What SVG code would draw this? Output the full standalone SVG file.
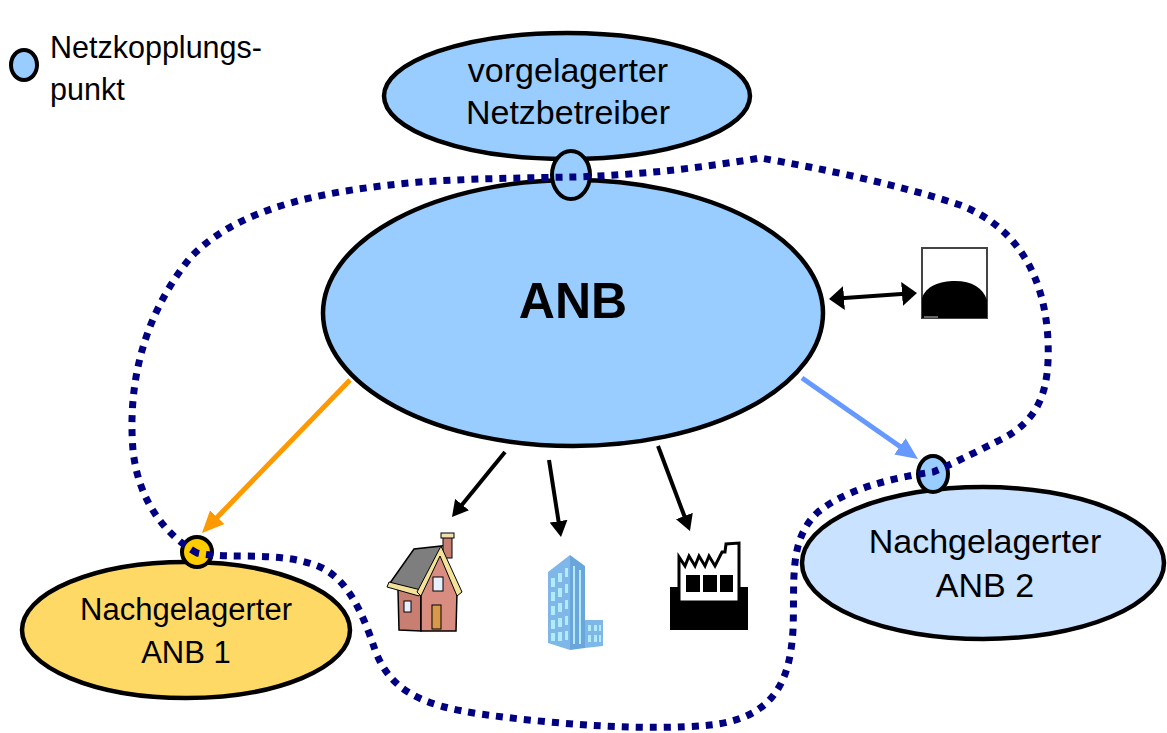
<svg xmlns="http://www.w3.org/2000/svg" width="1167" height="733" viewBox="0 0 1167 733">
  <style>
    .node { stroke: #000; stroke-width: 4.5; }
    .blue { fill: #99CCFF; }
    .lt { font-family: "Liberation Sans", Arial, sans-serif; fill: #000; text-anchor: middle; }
    .ring { fill: none; stroke: #000080; stroke-width: 7; stroke-dasharray: 7 7; }
    .cp { stroke: #000; stroke-width: 4; }
  </style>
  <defs>
    <marker id="headOrange" markerUnits="userSpaceOnUse" viewBox="0 0 22 20" markerWidth="22" markerHeight="20" refX="4" refY="10" orient="auto">
      <path d="M0,0 L22,10 L0,20 Z" fill="#FF9900"/>
    </marker>
    <marker id="headBlue" markerUnits="userSpaceOnUse" viewBox="0 0 22 20" markerWidth="22" markerHeight="20" refX="4" refY="10" orient="auto">
      <path d="M0,0 L22,10 L0,20 Z" fill="#6699FF"/>
    </marker>
    <marker id="headBlackWide" markerUnits="userSpaceOnUse" viewBox="0 0 15 24" markerWidth="15" markerHeight="24" refX="3" refY="12" orient="auto-start-reverse">
      <path d="M0,0 L15,12 L0,24 Z" fill="#000"/>
    </marker>
    <marker id="headBlack" markerUnits="userSpaceOnUse" viewBox="0 0 16 18" markerWidth="16" markerHeight="18" refX="3" refY="9" orient="auto">
      <path d="M0,0 L16,9 L0,18 Z" fill="#000"/>
    </marker>
  </defs>

  <rect width="1167" height="733" fill="#fff"/>

  <!-- legend -->
  <g id="legend">
    <ellipse cx="24" cy="65" rx="13" ry="15" class="cp blue"/>
    <text x="50" y="58" font-family="Liberation Sans, Arial, sans-serif" font-size="30.5">Netzkopplungs-</text>
    <text x="50" y="100" font-family="Liberation Sans, Arial, sans-serif" font-size="30.5">punkt</text>
  </g>

  <!-- upstream operator -->
  <g id="vorgelagerter">
    <ellipse cx="567" cy="96" rx="183" ry="63" class="node blue"/>
    <text x="568" y="82" class="lt" font-size="34">vorgelagerter</text>
    <text x="568" y="124" class="lt" font-size="34">Netzbetreiber</text>
  </g>

  <!-- main grid operator -->
  <g id="anb">
    <ellipse cx="573" cy="313" rx="250" ry="133" class="node blue"/>
    <text x="573" y="318" class="lt" font-size="50" font-weight="bold">ANB</text>
  </g>

  <!-- downstream operator 1 -->
  <g id="anb1">
    <ellipse cx="186" cy="630" rx="164" ry="68" class="node" fill="#FFD966"/>
    <text x="186" y="620" class="lt" font-size="31">Nachgelagerter</text>
    <text x="186" y="663" class="lt" font-size="31">ANB 1</text>
  </g>

  <!-- downstream operator 2 -->
  <g id="anb2">
    <ellipse cx="983" cy="563" rx="181" ry="76" class="node" fill="#C8E2FF"/>
    <text x="985" y="553" class="lt" font-size="34">Nachgelagerter</text>
    <text x="985" y="597" class="lt" font-size="34">ANB 2</text>
  </g>

  <!-- coupling points -->
  <g id="kopplung-oben"><ellipse cx="571" cy="175" rx="19" ry="24" class="cp blue"/></g>
  <g id="kopplung-anb1"><ellipse cx="197" cy="552" rx="15" ry="15" class="cp" fill="#FFCC00"/></g>
  <g id="kopplung-anb2"><ellipse cx="933" cy="474" rx="15" ry="18" class="cp blue"/></g>

  <!-- power plant -->
  <g id="kraftwerk">
    <rect x="922" y="248" width="65" height="70" fill="#fff" stroke="#444" stroke-width="2"/>
    <path d="M922,298 C926,286 940,281 955,281 C972,281 983,288 987,300 L987,318 L922,318 Z" fill="#000"/>
    <line x1="924" y1="317" x2="938" y2="317" stroke="#888" stroke-width="1.5"/>
  </g>

  <!-- house -->
  <g id="haus">
    <path d="M398,590 L421,592 L421,631 L399,630 Z" fill="#C97E72" stroke="#000" stroke-width="1.5"/>
    <path d="M421,592 L442,550 L457,592 L456,631 L421,631 Z" fill="#D98D80" stroke="#000" stroke-width="1.5"/>
    <rect x="443" y="536" width="9" height="22" fill="#C97E72" stroke="#000" stroke-width="1"/>
    <rect x="441" y="533" width="13" height="5" fill="#F0E2B0" stroke="#000" stroke-width="1"/>
    <path d="M390,583 L414,549 L442,546 L421,591 Z" fill="#7E7E7E" stroke="#000" stroke-width="1.5"/>
    <path d="M389,582 L421,590 L419,596 L387,587 Z" fill="#F2E29A" stroke="#000" stroke-width="1"/>
    <path d="M441,546 L462,592 L457,596 L440,556 L421,596 L417,592 Z" fill="#F2E29A" stroke="#000" stroke-width="1"/>
    <rect x="433" y="577" width="10" height="14" fill="#E8F0FF" stroke="#000" stroke-width="1"/>
    <rect x="404" y="601" width="7" height="11" fill="#E8F0FF" stroke="#000" stroke-width="1"/>
    <rect x="432" y="605" width="9" height="24" fill="#D89A4A" stroke="#000" stroke-width="1"/>
  </g>

  <!-- office tower -->
  <g id="hochhaus">
    <path d="M548,572 L570,555 L570,650 L548,643 Z" fill="#7FB8E8"/>
    <path d="M570,555 L585,566 L585,648 L570,650 Z" fill="#6AA6DC"/>
    <path d="M585,620 L603,620 L603,646 L585,648 Z" fill="#7FB8E8"/>
    <g fill="#B2ECFA">
      <rect x="551" y="578" width="4" height="9"/><rect x="558" y="573" width="4" height="9"/><rect x="565" y="568" width="3" height="9"/>
      <rect x="551" y="592" width="4" height="9"/><rect x="558" y="588" width="4" height="9"/><rect x="565" y="584" width="3" height="9"/>
      <rect x="551" y="606" width="4" height="9"/><rect x="558" y="603" width="4" height="9"/><rect x="565" y="600" width="3" height="9"/>
      <rect x="551" y="620" width="4" height="9"/><rect x="558" y="618" width="4" height="9"/><rect x="565" y="616" width="3" height="9"/>
      <rect x="551" y="633" width="4" height="8"/><rect x="558" y="632" width="4" height="9"/><rect x="565" y="631" width="3" height="9"/>
      <rect x="573" y="566" width="2" height="78"/><rect x="579" y="570" width="2" height="74"/>
      <rect x="588" y="625" width="3" height="6"/><rect x="594" y="625" width="3" height="6"/><rect x="599" y="625" width="2" height="6"/>
      <rect x="588" y="635" width="3" height="7"/><rect x="594" y="635" width="3" height="7"/><rect x="599" y="635" width="2" height="7"/>
    </g>
  </g>

  <!-- factory -->
  <g id="fabrik">
    <rect x="670" y="587" width="78" height="43" fill="#000"/>
    <path d="M679,602 L679,557 L685,566 L689,556 L695,566 L699,556 L705,566 L709,556 L715,566 L722,552 L725,552 L726,544 L739,543 L739,602 Z" fill="#fff" stroke="#000" stroke-width="3"/>
    <rect x="686" y="575" width="14" height="17" fill="#000"/>
    <rect x="703" y="575" width="14" height="17" fill="#000"/>
    <rect x="720" y="575" width="13" height="17" fill="#000"/>
  </g>

  <!-- connectors -->
  <g id="connectors">
    <line x1="350" y1="380" x2="214.5" y2="520.1" stroke="#FF9900" stroke-width="5" marker-end="url(#headOrange)"/>
    <line x1="802" y1="378" x2="903.2" y2="448.7" stroke="#6699FF" stroke-width="5" marker-end="url(#headBlue)"/>
    <line x1="841" y1="298.2" x2="905" y2="293.8" stroke="#000" stroke-width="4" marker-start="url(#headBlackWide)" marker-end="url(#headBlackWide)"/>
    <line x1="505" y1="452" x2="460.2" y2="506.9" stroke="#000" stroke-width="4" marker-end="url(#headBlack)"/>
    <line x1="549" y1="460" x2="559" y2="524.2" stroke="#000" stroke-width="4" marker-end="url(#headBlack)"/>
    <line x1="658" y1="446" x2="685.4" y2="518.8" stroke="#000" stroke-width="4" marker-end="url(#headBlack)"/>
  </g>

  <!-- grid boundary -->
  <g id="netzgrenze">
    <path class="ring" d="M197,553 C165,535 138,500 133,450 C128,390 140,320 190,258 C240,205 330,190 420,182 C480,178 530,178 573,177 C640,175 700,168 760,158 C820,168 900,185 960,205 C1020,228 1045,280 1048,340 C1050,390 1040,420 1000,440 C970,455 950,465 933,472 C890,478 845,490 818,512 C788,540 795,580 793,630 C790,680 775,718 710,725 C650,731 560,725 480,714 C420,705 390,690 375,650 C365,620 350,580 320,567 C280,550 230,560 197,553 Z"/>
  </g>
</svg>
